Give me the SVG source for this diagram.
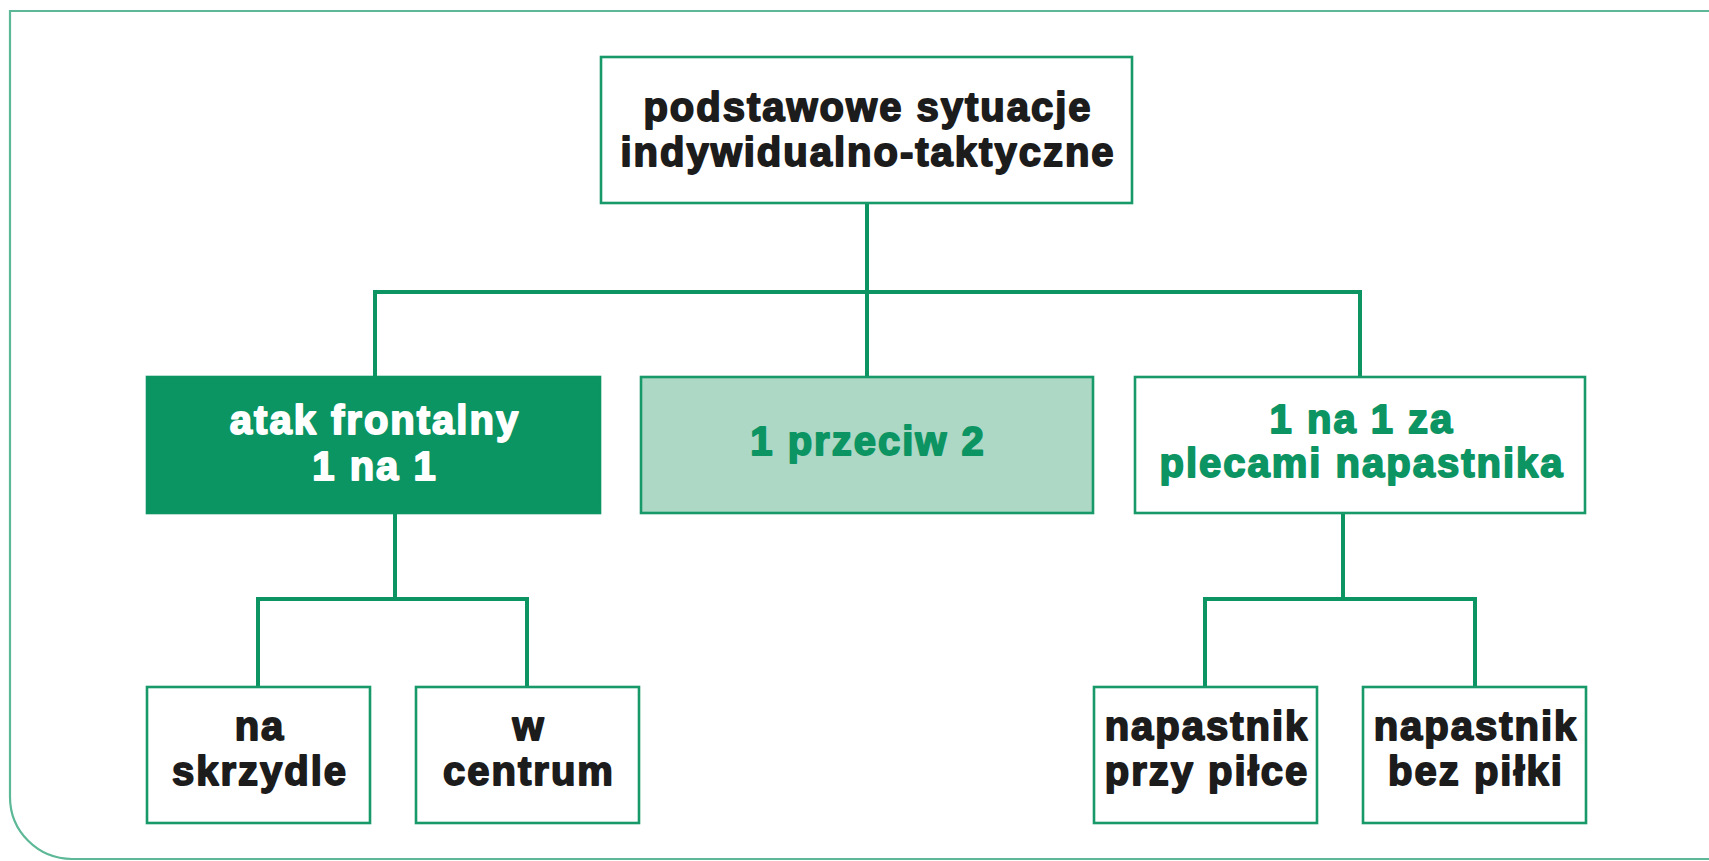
<svg xmlns="http://www.w3.org/2000/svg" width="1709" height="861" viewBox="0 0 1709 861">
<style>
.box{stroke:#17996a;stroke-width:2.6;fill:#ffffff}
.dark{fill:#0a9563;stroke:#0a9563}
.light{fill:#acd8c5}
.t{font-family:"Liberation Sans",Arial,sans-serif;font-weight:bold;font-size:40px;letter-spacing:2px;text-anchor:middle;stroke-width:1.8px;stroke-linejoin:round}
.blk{fill:#1c1c1c;stroke:#1c1c1c}
.wht{fill:#ffffff;stroke:#ffffff}
.grn{fill:#0d9463;stroke:#0d9463}
.conn{stroke:#0d9463;stroke-width:4;fill:none;stroke-linecap:square}
</style>
<rect width="1709" height="861" fill="#ffffff"/>
<path d="M1709,11 H10 V797 A62,62 0 0 0 72,859 H1709" fill="none" stroke="#5cb896" stroke-width="2.2"/>
<g id="connectors">
<path class="conn" d="M867,203 V292 M375,292 H1360 M375,292 V377 M867,292 V377 M1360,292 V377"/>
<path class="conn" d="M395,513 V599 M258,599 H527 M258,599 V687 M527,599 V687"/>
<path class="conn" d="M1343,513 V599 M1205,599 H1475 M1205,599 V687 M1475,599 V687"/>
</g>
<g id="root">
<rect class="box" x="601" y="57" width="531" height="146"/>
<text class="t blk" x="868" y="121">podstawowe sytuacje</text>
<text class="t blk" x="868" y="166">indywidualno-taktyczne</text>
</g>
<g id="atak">
<rect class="box dark" x="147" y="377" width="453" height="136"/>
<text class="t wht" x="375" y="434">atak frontalny</text>
<text class="t wht" x="375" y="480">1 na 1</text>
</g>
<g id="przeciw">
<rect class="box light" x="641" y="377" width="452" height="136"/>
<text class="t grn" x="868" y="455">1 przeciw 2</text>
</g>
<g id="plecami">
<rect class="box" x="1135" y="377" width="450" height="136"/>
<text class="t grn" x="1362" y="433">1 na 1 za</text>
<text class="t grn" x="1362" y="477">plecami napastnika</text>
</g>
<g id="skrzydle">
<rect class="box" x="147" y="687" width="223" height="136"/>
<text class="t blk" x="260" y="740">na</text>
<text class="t blk" x="260" y="785">skrzydle</text>
</g>
<g id="centrum">
<rect class="box" x="416" y="687" width="223" height="136"/>
<text class="t blk" x="529" y="740">w</text>
<text class="t blk" x="529" y="785">centrum</text>
</g>
<g id="przy">
<rect class="box" x="1094" y="687" width="223" height="136"/>
<text class="t blk" x="1207" y="740">napastnik</text>
<text class="t blk" x="1207" y="785">przy piłce</text>
</g>
<g id="bez">
<rect class="box" x="1363" y="687" width="223" height="136"/>
<text class="t blk" x="1476" y="740">napastnik</text>
<text class="t blk" x="1476" y="785">bez piłki</text>
</g>
</svg>
